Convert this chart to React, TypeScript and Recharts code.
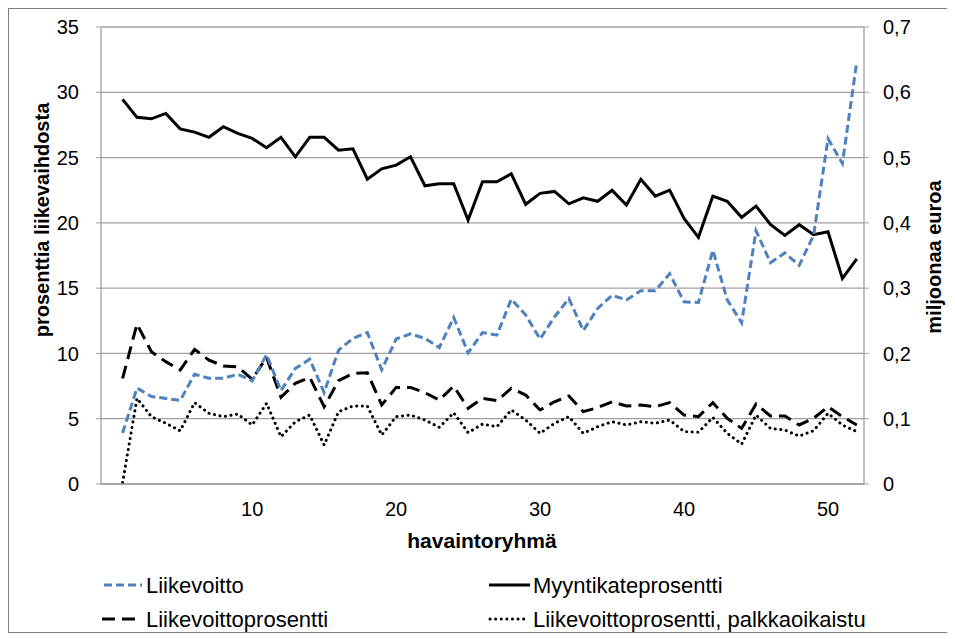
import React from "react";
import { LineChart, Line, XAxis, YAxis, CartesianGrid } from "recharts";

const groups = [1,2,3,4,5,6,7,8,9,10,11,12,13,14,15,16,17,18,19,20,21,22,23,24,25,26,27,28,29,30,31,32,33,34,35,36,37,38,39,40,41,42,43,44,45,46,47,48,49,50,51,52];

// miljoonaa euroa (right axis)
const liikevoitto = [0.078,0.147,0.134,0.131,0.128,0.168,0.162,0.162,0.168,0.158,0.198,0.143,0.177,0.191,0.140,0.205,0.223,0.232,0.175,0.222,0.230,0.223,0.209,0.255,0.201,0.232,0.228,0.283,0.259,0.222,0.256,0.284,0.235,0.269,0.289,0.282,0.296,0.296,0.322,0.279,0.278,0.358,0.282,0.247,0.388,0.339,0.354,0.335,0.381,0.529,0.491,0.647];

// prosenttia liikevaihdosta (left axis)
const myyntikate = [29.46,28.08,27.97,28.38,27.2,26.95,26.55,27.36,26.85,26.47,25.75,26.55,25.06,26.55,26.55,25.57,25.67,23.35,24.14,24.42,25.06,22.84,22.99,22.99,20.21,23.15,23.15,23.76,21.42,22.26,22.41,21.46,21.92,21.65,22.49,21.36,23.33,22.05,22.51,20.34,18.89,22.05,21.65,20.42,21.29,19.88,19.04,19.86,19.09,19.32,15.75,17.25];

const liikevoittoProsentti = [8.09,12.25,10.13,9.37,8.73,10.31,9.49,9.04,8.98,8.02,9.7,6.64,7.71,8.17,5.92,7.91,8.47,8.52,6.05,7.4,7.4,6.99,6.43,7.5,5.8,6.56,6.38,7.33,6.81,5.67,6.3,6.74,5.54,5.85,6.3,5.97,6.05,5.92,6.23,5.28,5.16,6.23,5.03,4.26,6.13,5.21,5.21,4.52,5.03,5.92,5.16,4.52];

const palkkaoikaistu = [0.1,6.56,5.16,4.65,4.08,6.23,5.41,5.16,5.36,4.52,6.18,3.62,4.77,5.28,2.99,5.54,5.97,5.97,3.75,5.16,5.28,4.9,4.34,5.46,3.93,4.59,4.39,5.67,4.9,3.88,4.65,5.16,3.88,4.39,4.77,4.52,4.77,4.65,4.9,4.01,3.96,5.1,3.88,3.06,5.28,4.26,4.13,3.67,4.08,5.41,4.52,4.01];

const leftTicks = [0, 5, 10, 15, 20, 25, 30, 35];
const rightTicks = [0, 0.1, 0.2, 0.3, 0.4, 0.5, 0.6, 0.7];
const xTicks = [10, 20, 30, 40, 50];

const data = groups.map((g, i) => ({
  g,
  liikevoitto: liikevoitto[i],
  myyntikate: myyntikate[i],
  lvp: liikevoittoProsentti[i],
  palkka: palkkaoikaistu[i],
}));

const FONT = '"Liberation Sans", Arial, sans-serif';
const BLUE = "#4F81BD";
const GRID = "#A0A0A0";

const fmtRight = (v: number) => (v === 0 ? "0" : v.toFixed(1).replace(".", ","));

export default function App() {
  const tickStyle = { fill: "#000", fontSize: 20, fontFamily: FONT };
  const LF = 22;
  return (
    <div
      style={{
        position: "relative",
        width: 945,
        height: 623,
        border: "1px solid #7F7F7F",
        background: "#fff",
        fontFamily: FONT,
      }}
    >
      <LineChart
        width={945}
        height={530}
        data={data}
        margin={{ top: 18, right: 0, bottom: 0, left: 0 }}
      >
        <CartesianGrid yAxisId="left" vertical={false} stroke={GRID} strokeWidth={1.3} />
        <XAxis
          dataKey="g"
          type="number"
          domain={[-0.5, 52.5]}
          ticks={xTicks}
          allowDataOverflow
          height={55}
          tickLine={false}
          tickSize={0}
          tickMargin={18}
          axisLine={{ stroke: GRID, strokeWidth: 1.3 }}
          tick={tickStyle}
        />
        <YAxis
          yAxisId="left"
          orientation="left"
          width={92}
          domain={[0, 35]}
          ticks={leftTicks}
          allowDataOverflow
          tickSize={5}
          tickMargin={17}
          tickLine={{ stroke: GRID }}
          axisLine={{ stroke: GRID, strokeWidth: 1.3 }}
          tick={tickStyle}
        />
        <YAxis
          yAxisId="right"
          orientation="right"
          width={90}
          domain={[0, 0.7]}
          ticks={rightTicks}
          allowDataOverflow
          tickSize={5}
          tickMargin={14}
          tickFormatter={fmtRight}
          tickLine={{ stroke: GRID }}
          axisLine={{ stroke: GRID, strokeWidth: 1.3 }}
          tick={tickStyle}
        />
        <Line
          yAxisId="left"
          type="linear"
          dataKey="palkka"
          stroke="#000"
          strokeWidth={3}
          strokeDasharray="0.1 5.5"
          strokeLinecap="round"
          dot={false}
          isAnimationActive={false}
        />
        <Line
          yAxisId="left"
          type="linear"
          dataKey="lvp"
          stroke="#000"
          strokeWidth={3}
          strokeDasharray="13 7"
          dot={false}
          isAnimationActive={false}
        />
        <Line
          yAxisId="left"
          type="linear"
          dataKey="myyntikate"
          stroke="#000"
          strokeWidth={3}
          dot={false}
          isAnimationActive={false}
        />
        <Line
          yAxisId="right"
          type="linear"
          dataKey="liikevoitto"
          stroke={BLUE}
          strokeWidth={3}
          strokeDasharray="8 4"
          dot={false}
          isAnimationActive={false}
        />
      </LineChart>
      <svg
        width={945}
        height={623}
        style={{ position: "absolute", left: 0, top: 0, pointerEvents: "none" }}
        fontFamily={FONT}
      >
        <text
          x={33}
          y={211}
          transform="rotate(-90 33 211)"
          textAnchor="middle"
          dominantBaseline="central"
          fontSize={20}
          fontWeight="bold"
          fill="#000"
        >
          prosenttia liikevaihdosta
        </text>
        <text
          x={925}
          y={248}
          transform="rotate(-90 925 248)"
          textAnchor="middle"
          dominantBaseline="central"
          fontSize={20}
          fontWeight="bold"
          fill="#000"
        >
          miljoonaa euroa
        </text>
        <text
          x={473}
          y={531}
          textAnchor="middle"
          dominantBaseline="central"
          fontSize={21}
          fontWeight="bold"
          fill="#000"
        >
          havaintoryhmä
        </text>
        {/* legend row 1 */}
        <line x1={95} y1={576} x2={133} y2={576} stroke={BLUE} strokeWidth={3} strokeDasharray="8 4" />
        <text x={137} y={576} dominantBaseline="central" fontSize={LF} fill="#000">Liikevoitto</text>
        <line x1={480} y1={576} x2={521} y2={576} stroke="#000" strokeWidth={3} />
        <text x={524} y={576} dominantBaseline="central" fontSize={LF} fill="#000">Myyntikateprosentti</text>
        {/* legend row 2 */}
        <line x1={93} y1={610} x2={133} y2={610} stroke="#000" strokeWidth={3} strokeDasharray="13 7" />
        <text x={137} y={610} dominantBaseline="central" fontSize={LF} fill="#000">Liikevoittoprosentti</text>
        <line x1={481} y1={610} x2={520} y2={610} stroke="#000" strokeWidth={3} strokeDasharray="0.1 5.5" strokeLinecap="round" />
        <text x={524} y={610} dominantBaseline="central" fontSize={LF} fill="#000">Liikevoittoprosentti, palkkaoikaistu</text>
      </svg>
    </div>
  );
}
